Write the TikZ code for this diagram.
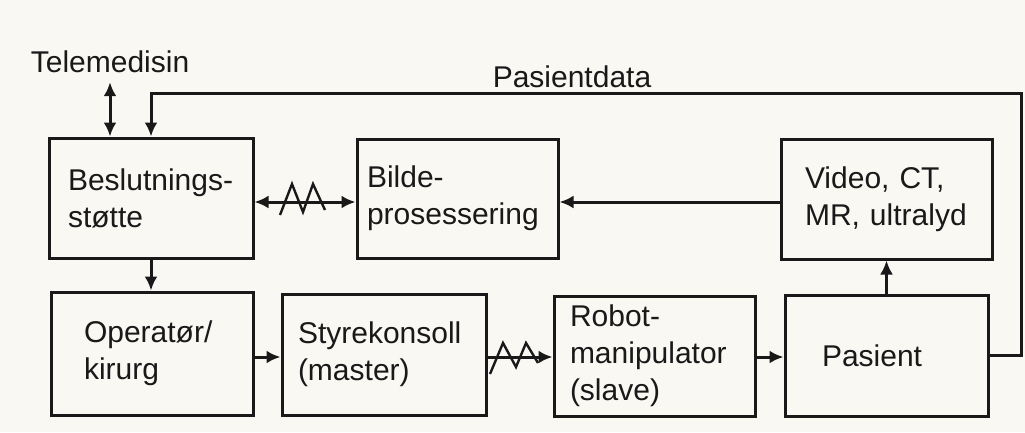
\documentclass[tikz,border=0pt]{standalone}
\usepackage{fontspec}
\setmainfont{Liberation Sans}
\usetikzlibrary{arrows.meta}
\definecolor{paper}{RGB}{250,248,243}
\definecolor{ink}{RGB}{25,25,25}
\begin{document}
\begin{tikzpicture}[x=1pt,y=-1pt,
  txt/.style={font=\fontsize{30}{37}\selectfont, text=ink},
  box/.style={txt, draw=ink, line width=3pt, align=left, inner ysep=0pt},
  lbl/.style={txt, inner sep=0pt},
  arr/.style={draw=ink, line width=3pt, -{Latex[length=14pt,width=13pt]}},
  darr/.style={draw=ink, line width=3pt, {Latex[length=14pt,width=13pt]}-{Latex[length=14pt,width=13pt]}},
  zz/.style={draw=ink, line width=2.4pt, line join=miter}]
\fill[paper] (0,0) rectangle (1025,432);
\useasboundingbox (0,0) rectangle (1025,432);

% boxes
\node[box, minimum width=204pt, minimum height=120pt, inner xsep=19pt, text width=166pt] (bes) at (151,198) {Beslutnings-\\støtte};
\node[box, minimum width=201pt, minimum height=119pt, inner xsep=10pt, text width=181pt] (bil) at (457.5,198.5) {Bilde-\\prosessering};
\node[box, minimum width=211pt, minimum height=120pt, inner xsep=24pt, text width=163pt] (vid) at (886.5,199) {Video, CT,\\MR, ultralyd};
\node[box, minimum width=202pt, minimum height=123pt, inner xsep=33pt, text width=136pt] (ope) at (152,353.5) {Operatør/\\kirurg};
\node[box, minimum width=204pt, minimum height=121pt, inner xsep=16pt, text width=172pt] (sty) at (384,354.5) {Styrekonsoll\\(master)};
\node[box, minimum width=201pt, minimum height=120pt, inner xsep=16pt, text width=169pt] (rob) at (654.5,356) {Robot-\\manipulator\\(slave)};
\node[box, minimum width=203pt, minimum height=121pt, inner xsep=37pt, text width=129pt] (pas) at (886.5,355.5) {Pasient};

% labels
\node[lbl] (tele) at (110,62) {Telemedisin};
\node[lbl] (pd) at (572,77) {Pasientdata};

% helper coordinates
\coordinate (ty) at (0,202);
\coordinate (by) at (0,357);
\coordinate (fb) at (1021,93);

% connectors
\draw[darr] ([yshift=-9pt]tele.south) -- (tele.south |- bes.north);
\draw[arr] (pas.east) -| (fb) -| (bes.north);
\draw[arr] (bes.south) -- (bes.south |- ope.north);
\draw[arr] (vid.west |- ty) -- (bil.east |- ty);
\draw[darr] (bes.east |- ty) -- (bil.west |- ty);
\draw[arr] (pas.north) -- (pas.north |- vid.south);
\draw[arr] (ope.east |- by) -- (sty.west |- by);
\draw[arr] (sty.east |- by) -- (rob.west |- by);
\draw[arr] (rob.east |- by) -- (pas.west |- by);

% zigzags (radio links)
\coordinate (z1) at (305,202);
\draw[zz] (z1) ++(-25,13) -- ++(12,-31) -- ++(11,28) -- ++(10,-28) -- ++(12,26);
\coordinate (z2) at (520,357);
\draw[zz] (z2) ++(-30,17) -- ++(13,-31) -- ++(13,24) -- ++(10,-24) -- ++(12,20);
\end{tikzpicture}
\end{document}
